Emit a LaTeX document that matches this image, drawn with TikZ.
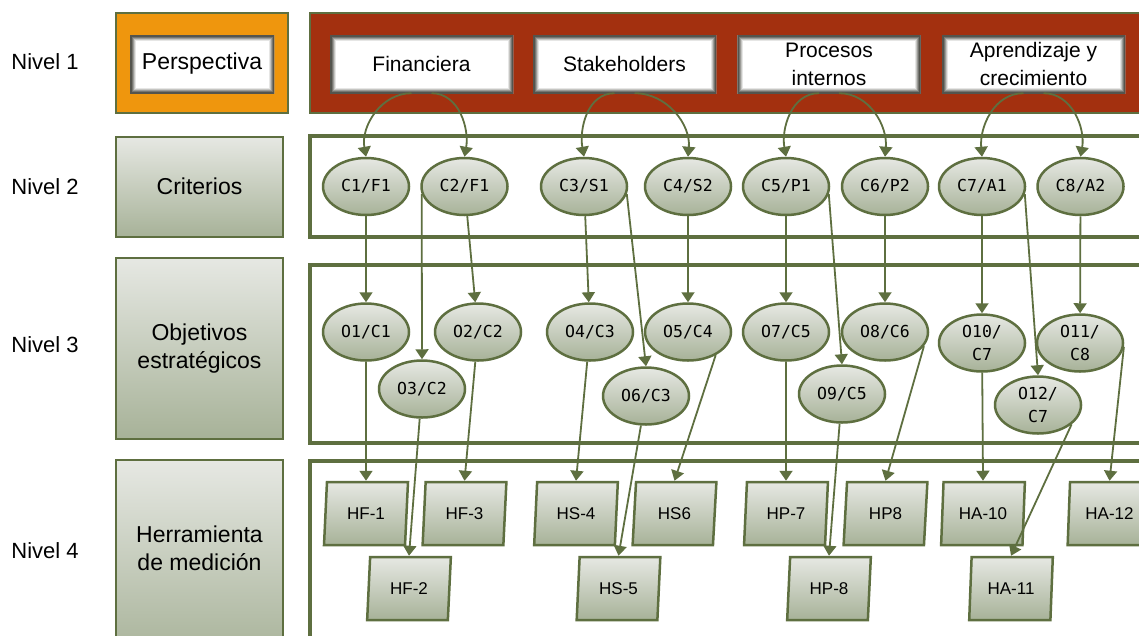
\documentclass[tikz,border=0pt]{standalone}
\usepackage{fontspec}
\setmainfont{Liberation Sans}
\newfontfamily\ellfont{DejaVu Sans Mono}
\usetikzlibrary{shapes.geometric,arrows.meta}

\definecolor{bscline}{HTML}{5E6F40}
\definecolor{bsctop}{HTML}{E6E8E3}
\definecolor{bscbot}{HTML}{A7B298}
\definecolor{bscred}{HTML}{A3300F}
\definecolor{bscorange}{HTML}{EF960D}
\definecolor{bscshade}{HTML}{2E2E26}

\tikzset{
  panel/.style={draw=bscline, line width=4.5pt, fill=white},
  headpanel/.style={draw=bscline, line width=2pt},
  levelbox/.style={rectangle, draw=bscline, line width=2.5pt, top color=bsctop,
    bottom color=bscbot},
  leveltext/.style={align=center, inner sep=0pt, font=\fontsize{23}{28}\selectfont},
  capbox/.style={rectangle, fill=white, minimum height=58pt, minimum width=183pt,
    inner sep=0pt, align=center, font=\fontsize{21}{28}\selectfont,
    path picture={
      \foreach \w/\c in {11/12,9/28,7/48,5/66,3/82}
        \draw[bscshade!\c!white, line width=\w pt]
          (path picture bounding box.south west) rectangle
          (path picture bounding box.north east);
    }},
  nivel/.style={font=\fontsize{22}{26}\selectfont, inner sep=0pt},
  ell/.style={ellipse, draw=bscline, line width=2.5pt, top color=bsctop,
    bottom color=bscbot, minimum width=86pt, minimum height=57pt, inner sep=0pt,
    align=center, font=\ellfont\fontsize{16.5}{23}\selectfont},
  para/.style={trapezium, trapezium left angle=83, trapezium right angle=97,
    trapezium stretches=true, draw=bscline, line width=2.5pt, top color=bsctop,
    bottom color=bscbot, minimum width=84pt, minimum height=63pt, inner sep=0pt,
    font=\fontsize{17}{20}\selectfont},
  conn/.style={draw=bscline, line width=1.8pt,
    -{Triangle[length=10pt,width=13pt]}},
}

\begin{document}
\begin{tikzpicture}[x=1pt,y=-1pt]
\useasboundingbox (0,0) rectangle (1139,635);
\clip (0,0) rectangle (1139,635);

% level captions
\node[nivel] (n1) at (45,62) {Nivel 1};
\node[nivel] (n2) at (45,187) {Nivel 2};
\node[nivel] (n3) at (45,345) {Nivel 3};
\node[nivel] (n4) at (45,551) {Nivel 4};

% left column
\draw[headpanel, fill=bscorange] (116,13) rectangle (288,113);
\node[capbox, minimum width=144pt, font=\fontsize{23}{28}\selectfont] (persp) at (202,64) {Perspectiva};
\draw[levelbox] (116,137) rectangle (283,237);
\node[leveltext] (crit) at (199.5,186) {Criterios};
\draw[levelbox] (116,258) rectangle (283,439);
\node[leveltext] (obj) at (199.5,349) {Objetivos\\estratégicos};
\draw[levelbox] (116,460) rectangle (283,660);
\node[leveltext] (herr) at (199.5,548) {Herramienta\\de medición};

% right panels
\draw[headpanel, fill=bscred] (310,13) rectangle (1180,113);
\draw[panel] (310,136) rectangle (1180,237);
\draw[panel] (310,265) rectangle (1180,443);
\draw[panel] (310,461) rectangle (1180,680);

% perspectives
\node[capbox] (fin) at (421.5,64) {Financiera};
\node[capbox] (stk) at (624.5,64) {Stakeholders};
\node[capbox] (proc) at (829,64) {Procesos\\internos};
\node[capbox] (apr) at (1033.5,64) {Aprendizaje y\\crecimiento};

% criteria
\node[ell] (C1) at (366,186.5) {C1/F1};
\node[ell] (C2) at (464.5,186.5) {C2/F1};
\node[ell] (C3) at (584,186.5) {C3/S1};
\node[ell] (C4) at (688,186.5) {C4/S2};
\node[ell] (C5) at (786,186.5) {C5/P1};
\node[ell] (C6) at (885,186.5) {C6/P2};
\node[ell] (C7) at (982,186.5) {C7/A1};
\node[ell] (C8) at (1080.5,186.5) {C8/A2};

% strategic objectives
\node[ell] (O1) at (366,332) {O1/C1};
\node[ell] (O2) at (478,332) {O2/C2};
\node[ell] (O3) at (422,389) {O3/C2};
\node[ell] (O4) at (590,332) {O4/C3};
\node[ell] (O5) at (688,332) {O5/C4};
\node[ell] (O6) at (646,396) {O6/C3};
\node[ell] (O7) at (786,332) {O7/C5};
\node[ell] (O8) at (885,332) {O8/C6};
\node[ell] (O9) at (842,394) {O9/C5};
\node[ell] (O10) at (982,343) {O10/\\C7};
\node[ell] (O11) at (1080,343) {O11/\\C8};
\node[ell] (O12) at (1038,405) {O12/\\C7};

% measurement tools
\node[para] (HF1) at (366,513.5) {HF-1};
\node[para] (HF3) at (464.5,513.5) {HF-3};
\node[para] (HS4) at (576,513.5) {HS-4};
\node[para] (HS6) at (674.5,513.5) {HS6};
\node[para] (HP7) at (786,513.5) {HP-7};
\node[para] (HP8) at (885.5,513.5) {HP8};
\node[para] (HA10) at (983,513.5) {HA-10};
\node[para] (HA12) at (1109.5,513.5) {HA-12};
\node[para] (HF2) at (409,588.5) {HF-2};
\node[para] (HS5) at (618.5,588.5) {HS-5};
\node[para] (HPb) at (829,588.5) {HP-8};
\node[para] (HA11) at (1011,588.5) {HA-11};

% perspective -> criteria
\draw[conn] ([xshift=-10pt]fin.south) to[out=180,in=100] (C1.north);
\draw[conn] ([xshift=10pt]fin.south) to[out=0,in=80] (C2.north);
\draw[conn] ([xshift=-10pt]stk.south) to[out=180,in=100] (C3.north);
\draw[conn] ([xshift=10pt]stk.south) to[out=0,in=85] (C4.north);
\draw[conn] ([xshift=-10pt]proc.south) to[out=180,in=100] (C5.north);
\draw[conn] ([xshift=10pt]proc.south) to[out=0,in=85] (C6.north);
\draw[conn] ([xshift=-10pt]apr.south) to[out=180,in=95] (C7.north);
\draw[conn] ([xshift=10pt]apr.south) to[out=0,in=80] (C8.north);

% criteria -> objectives
\draw[conn] (C1) -- (O1);
\draw[conn] (C2) -- (O2);
\draw[conn] (C2.190) -- (O3.north);
\draw[conn] (C3) -- (O4);
\draw[conn] (C3.350) -- (O6.north);
\draw[conn] (C4) -- (O5);
\draw[conn] (C5) -- (O7);
\draw[conn] (C5.350) -- (O9.north);
\draw[conn] (C6) -- (O8);
\draw[conn] (C7) -- (O10);
\draw[conn] (C7.350) -- (O12.north);
\draw[conn] (C8) -- (O11);

% objectives -> tools
\draw[conn] (O1) -- (HF1.north);
\draw[conn] (O2) -- (HF3.north);
\draw[conn] (O3) -- (HF2.north);
\draw[conn] (O4) -- (HS4.north);
\draw[conn] (O6) -- (HS5.north);
\draw[conn] (O5.320) -- (HS6.north);
\draw[conn] (O7) -- (HP7.north);
\draw[conn] (O9) -- (HPb.north);
\draw[conn] (O8.340) -- (HP8.north);
\draw[conn] (O10) -- (HA10.north);
\draw[conn] (O12.330) -- (HA11.north);
\draw[conn] (O11.355) -- (HA12.north);
\end{tikzpicture}
\end{document}
